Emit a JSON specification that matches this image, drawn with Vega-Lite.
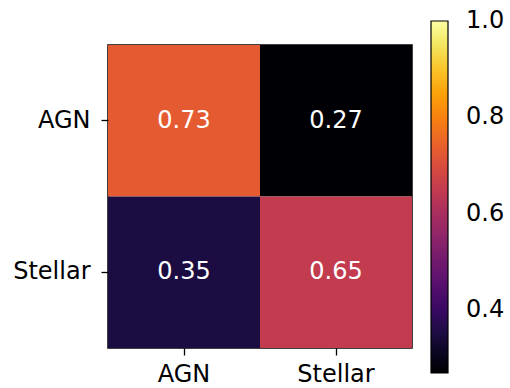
{
  "$schema": "https://vega.github.io/schema/vega-lite/v6.json",
  "width": 304,
  "height": 303,
  "autosize": {"type": "none"},
  "padding": {"left": 108, "top": 45, "right": 98, "bottom": 40},
  "background": "white",
  "config": {
    "font": "DejaVu Sans",
    "view": {"stroke": "black", "strokeWidth": 1.5},
    "axis": {
      "labelFont": "DejaVu Sans",
      "labelFontSize": 24,
      "labelColor": "black",
      "tickColor": "black",
      "tickWidth": 1.3,
      "tickSize": 7,
      "domain": false,
      "grid": false,
      "title": null
    }
  },
  "data": {
    "values": [
      {"true": "AGN", "pred": "AGN", "value": 0.73},
      {"true": "AGN", "pred": "Stellar", "value": 0.27},
      {"true": "Stellar", "pred": "AGN", "value": 0.35},
      {"true": "Stellar", "pred": "Stellar", "value": 0.65}
    ]
  },
  "encoding": {
    "x": {"field": "pred", "type": "nominal", "sort": ["AGN", "Stellar"],
          "axis": {"labelAngle": 0, "labelPadding": 7}},
    "y": {"field": "true", "type": "nominal", "sort": ["AGN", "Stellar"],
          "axis": {"labelPadding": 11}}
  },
  "layer": [
    {
      "mark": {"type": "rect"},
      "encoding": {
        "color": {
          "field": "value",
          "type": "quantitative",
          "scale": {"scheme": "inferno", "domain": [0.27, 1.0]},
          "legend": {
            "orient": "none",
            "legendX": 323,
            "legendY": -24,
            "direction": "vertical",
            "gradientLength": 352,
            "gradientThickness": 17,
            "gradientStrokeColor": "black",
            "gradientStrokeWidth": 1.2,
            "values": [0.4, 0.6, 0.8, 1.0],
            "format": ".1f",
            "title": null,
            "labelFont": "DejaVu Sans",
            "labelFontSize": 24,
            "labelColor": "black",
            "labelOffset": 18,
            "labelBaseline": "middle",
            "encode": {"labels": {"update": {"baseline": {"value": "middle"}}}}
          }
        }
      }
    },
    {
      "mark": {"type": "text", "color": "white", "fontSize": 24, "font": "DejaVu Sans"},
      "encoding": {
        "text": {"field": "value", "type": "quantitative", "format": ".2f"}
      }
    }
  ]
}
